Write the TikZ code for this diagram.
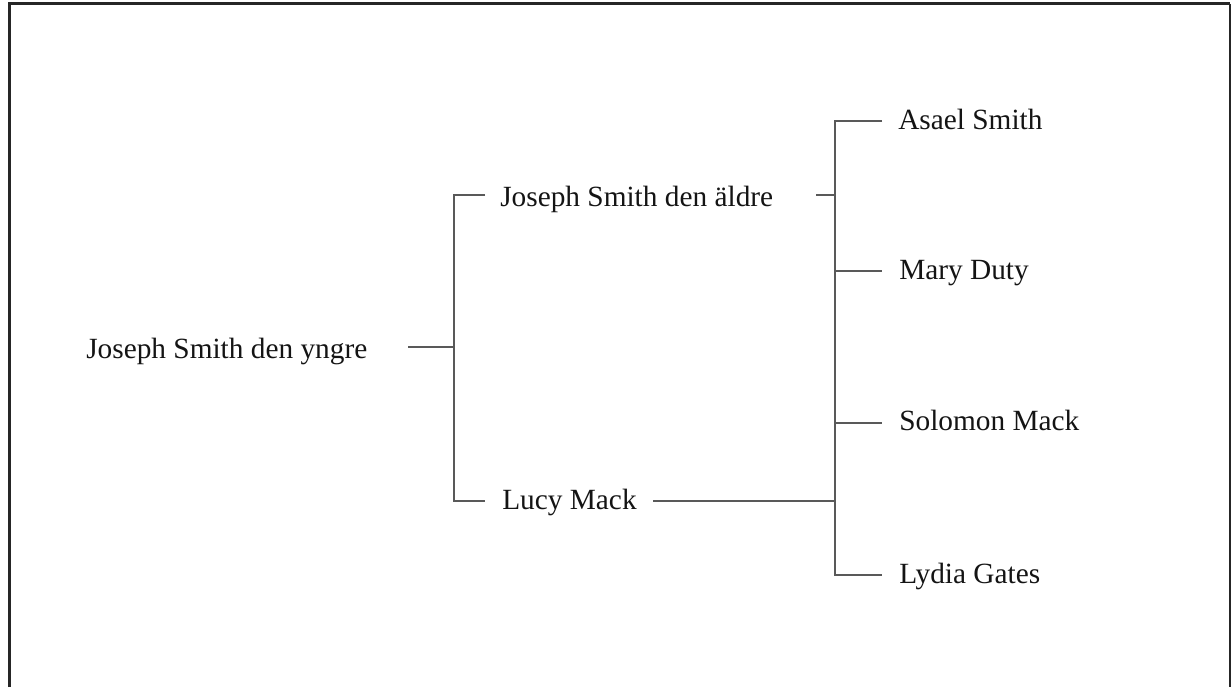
\documentclass[tikz,border=0pt]{standalone}
\usepackage{fontspec}
\setmainfont{Liberation Serif}
\begin{document}
\begin{tikzpicture}[x=0.75pt,y=-0.75pt,
  lbl/.style={anchor=base west,inner sep=0pt,font=\fontsize{22}{26}\selectfont,text=black!92},
  conn/.style={draw=black!65,line width=0.8pt},
  frameline/.style={draw=black!85}]
\useasboundingbox (0,0) rectangle (1231,687);
% frame
\coordinate (fbl) at (9.5,687);
\coordinate (ftl) at (9.5,3.5);
\coordinate (ftr) at (1230,3.5);
\coordinate (fbr) at (1230,687);
\draw[frameline,line width=2.2pt] (fbl) -- (ftl);
\draw[frameline,line width=1.6pt] (8.4,3.5) -- (ftr);
\draw[frameline,line width=0.9pt] (ftr) -- (fbr);
% nodes
\node[lbl] (y) at (86,358) {Joseph Smith den yngre};
\node[lbl] (f) at (500,206) {Joseph Smith den äldre};
\node[lbl] (m) at (502,509) {Lucy Mack};
\node[lbl] (a) at (898,129) {Asael Smith};
\node[lbl] (md) at (899,279) {Mary Duty};
\node[lbl] (s) at (899,430) {Solomon Mack};
\node[lbl] (l) at (899,583) {Lydia Gates};
% connector points
\coordinate (yr) at (408,347);
\coordinate (j1) at (454,347);
\coordinate (j1t) at (454,195);
\coordinate (j1b) at (454,501);
\coordinate (fl) at (485,195);
\coordinate (ml) at (485,501);
\coordinate (fr) at (816,195);
\coordinate (mr) at (653,501);
\coordinate (j2f) at (835,195);
\coordinate (j2m) at (835,501);
\coordinate (j2t) at (835,121);
\coordinate (j2s) at (835,271);
\coordinate (j2o) at (835,423);
\coordinate (j2b) at (835,575);
\coordinate (al) at (882,121);
\coordinate (mdl) at (882,271);
\coordinate (sl) at (882,423);
\coordinate (ll) at (882,575);
% connectors
\draw[conn] (yr) -- (j1);
\draw[conn] (fl) -- (j1t) -- (j1b) -- (ml);
\draw[conn] (fr) -- (j2f);
\draw[conn] (mr) -- (j2m);
\draw[conn] (al) -- (j2t) -- (j2b) -- (ll);
\draw[conn] (j2s) -- (mdl);
\draw[conn] (j2o) -- (sl);
\end{tikzpicture}
\end{document}
